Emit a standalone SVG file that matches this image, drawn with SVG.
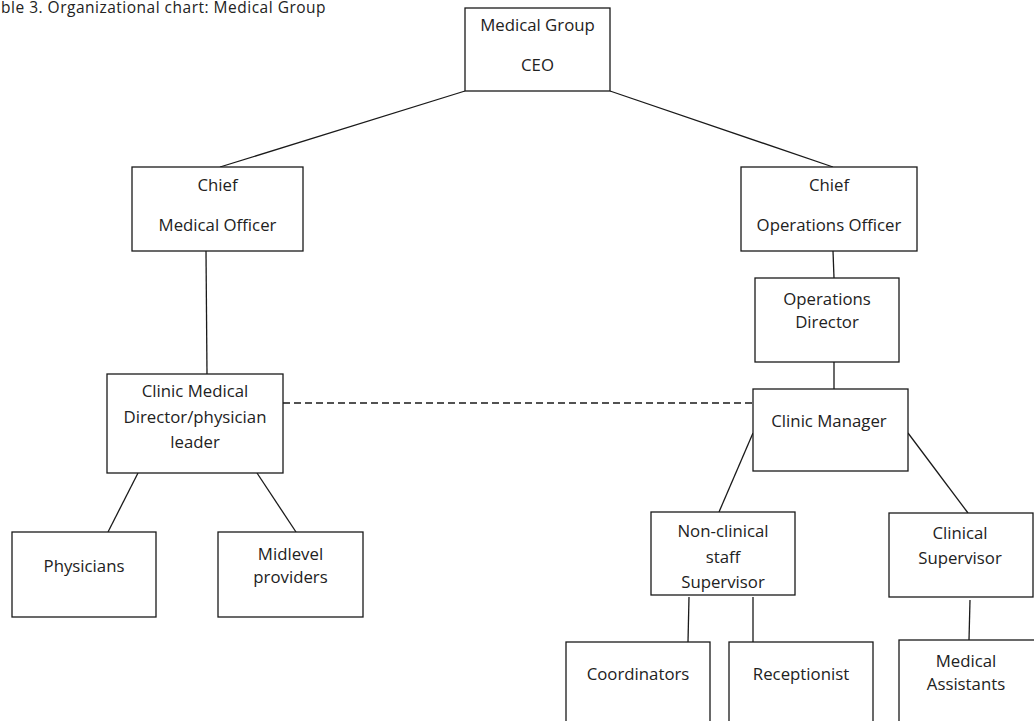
<svg xmlns="http://www.w3.org/2000/svg" width="1034" height="721" viewBox="0 0 1034 721">
<style>
  .box{fill:#fff;stroke:#1a1a1a;stroke-width:1.3}
  .t{font-family:"Open Sans","Liberation Sans",sans-serif;font-size:16.8px;fill:#222;text-anchor:middle}
  .ttl{font-family:"Open Sans","Liberation Sans",sans-serif;font-size:15.5px;letter-spacing:0.5px;fill:#222}
  .ln{stroke:#1a1a1a;stroke-width:1.3;fill:none}
  .dash{stroke:#1a1a1a;stroke-width:1.3;fill:none;stroke-dasharray:7 4}
</style>
<defs>
  <clipPath id="ncclip"><rect x="651" y="512" width="144" height="83"/></clipPath>
</defs>
<rect width="1034" height="721" fill="#fff"/>
<text class="ttl" x="1" y="13">ble 3. Organizational chart: Medical Group</text>
<g id="connectors">
  <line class="ln" x1="465" y1="91" x2="220" y2="167"/>
  <line class="ln" x1="610" y1="91" x2="833" y2="167"/>
  <line class="ln" x1="206" y1="251" x2="207" y2="374"/>
  <line class="ln" x1="833" y1="251" x2="834" y2="278"/>
  <line class="ln" x1="834" y1="362" x2="834" y2="389"/>
  <line class="dash" x1="283" y1="403" x2="753" y2="403"/>
  <line class="ln" x1="138" y1="473" x2="108" y2="532"/>
  <line class="ln" x1="257" y1="473" x2="296" y2="532"/>
  <line class="ln" x1="753" y1="433" x2="719" y2="512"/>
  <line class="ln" x1="908" y1="433" x2="968" y2="513"/>
  <line class="ln" x1="689" y1="597" x2="688" y2="642"/>
  <line class="ln" x1="753" y1="597" x2="753" y2="642"/>
  <line class="ln" x1="970" y1="600" x2="969" y2="640"/>
</g>
<g id="ceo">
  <rect class="box" x="465" y="8" width="145" height="83"/>
  <text class="t" x="537.5" y="31">Medical Group</text>
  <text class="t" x="537.5" y="71">CEO</text>
</g>
<g id="cmo">
  <rect class="box" x="132" y="167" width="171" height="84"/>
  <text class="t" x="217.5" y="191">Chief</text>
  <text class="t" x="217.5" y="231">Medical Officer</text>
</g>
<g id="coo">
  <rect class="box" x="741" y="167" width="176" height="84"/>
  <text class="t" x="829" y="191">Chief</text>
  <text class="t" x="829" y="231">Operations Officer</text>
</g>
<g id="opsdir">
  <rect class="box" x="755" y="278" width="144" height="84"/>
  <text class="t" x="827" y="305">Operations</text>
  <text class="t" x="827" y="328">Director</text>
</g>
<g id="clinicmgr">
  <rect class="box" x="753" y="389" width="155" height="82"/>
  <text class="t" x="829" y="427">Clinic Manager</text>
</g>
<g id="cmd">
  <rect class="box" x="107" y="374" width="176" height="99"/>
  <text class="t" x="195" y="397">Clinic Medical</text>
  <text class="t" x="195" y="423">Director/physician</text>
  <text class="t" x="195" y="448">leader</text>
</g>
<g id="physicians">
  <rect class="box" x="12" y="532" width="144" height="85"/>
  <text class="t" x="84" y="572">Physicians</text>
</g>
<g id="midlevel">
  <rect class="box" x="218" y="532" width="145" height="85"/>
  <text class="t" x="290.5" y="560">Midlevel</text>
  <text class="t" x="290.5" y="583">providers</text>
</g>
<g id="nonclinical">
  <rect class="box" x="651" y="512" width="144" height="83"/>
  <text class="t" x="723" y="537">Non-clinical</text>
  <text class="t" x="723" y="563">staff</text>
  <text class="t" x="723" y="588" clip-path="url(#ncclip)">Supervisor</text>
</g>
<g id="clinicalsup">
  <rect class="box" x="889" y="513" width="144" height="84"/>
  <text class="t" x="960" y="539">Clinical</text>
  <text class="t" x="960" y="564">Supervisor</text>
</g>
<g id="coordinators">
  <rect class="box" x="566" y="642" width="144" height="90"/>
  <text class="t" x="638" y="680">Coordinators</text>
</g>
<g id="receptionist">
  <rect class="box" x="729" y="642" width="144" height="90"/>
  <text class="t" x="801" y="680">Receptionist</text>
</g>
<g id="medassist">
  <rect class="box" x="899" y="640" width="144" height="92"/>
  <text class="t" x="966" y="667">Medical</text>
  <text class="t" x="966" y="690">Assistants</text>
</g>
</svg>
